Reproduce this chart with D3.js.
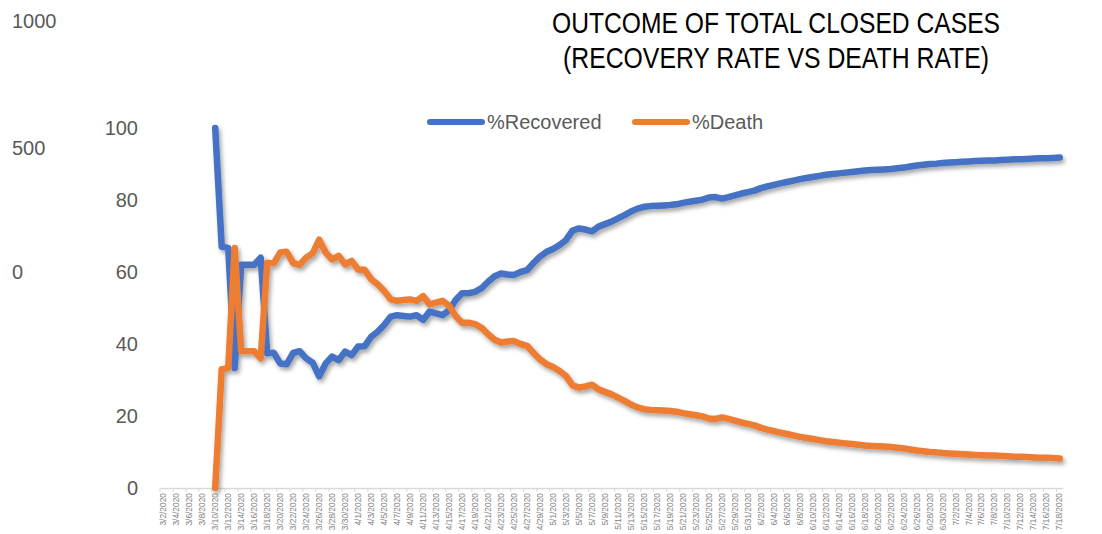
<!DOCTYPE html>
<html>
<head>
<meta charset="utf-8">
<script src="https://cdn.jsdelivr.net/npm/d3@7"></script>
<style>
  html, body { margin: 0; padding: 0; background: #fff; }
  svg { display: block; }
</style>
</head>
<body>
<svg id="chart" width="1102" height="534"></svg>
<script>
// ---- data ----
const startDate = "2020-03-02";
const endDate = "2020-07-18";
const seriesNames = ["%Recovered", "%Death"];
const yTicks = [0, 20, 40, 60, 80, 100];
const leftTexts = ["1000", "500", "0"];
const titleLines = ["OUTCOME OF TOTAL CLOSED CASES", "(RECOVERY RATE VS DEATH RATE)"];

// values start 3/10/2020 (first 8 days empty)
const recovered = [null, null, null, null, null, null, null, null,
  100, 67, 66.7, 33.3, 62, 62, 62, 64, 37.4, 37.6,
  34.6, 34.4, 37.5, 38.0, 36.0, 34.8, 31.0, 34.6, 36.5, 35.5,
  37.9, 36.9, 39.3, 39.4, 42.0, 43.4, 45.3, 47.6, 48.0, 47.8,
  47.6, 48.0, 46.7, 49.0, 48.5, 48.0, 49.4, 52.2, 54.1, 54.1,
  54.5, 55.5, 57.3, 58.8, 59.6, 59.3, 59.2, 60.0, 60.5, 62.5,
  64.3, 65.6, 66.4, 67.5, 68.9, 71.5, 72.1, 71.8, 71.3, 72.6,
  73.3, 74.0, 74.9, 75.8, 76.8, 77.6, 78.1, 78.3, 78.4, 78.5,
  78.6, 78.8, 79.2, 79.5, 79.8, 80.1, 80.7, 80.8, 80.4, 80.8,
  81.3, 81.8, 82.2, 82.6, 83.3, 83.8, 84.2, 84.6, 85.0, 85.4,
  85.8, 86.1, 86.4, 86.7, 87.0, 87.2, 87.4, 87.6, 87.8, 88.0,
  88.2, 88.3, 88.4, 88.5, 88.6, 88.8, 89.0, 89.3, 89.6, 89.8,
  90.0, 90.1, 90.3, 90.4, 90.5, 90.6, 90.7, 90.8, 90.9, 91.0,
  91.0, 91.1, 91.2, 91.3, 91.3, 91.4, 91.5, 91.6, 91.6, 91.7, 91.8];

const death = [null, null, null, null, null, null, null, null,
  0, 33, 33.3, 66.7, 38, 38, 38, 36, 62.6, 62.4,
  65.4, 65.6, 62.5, 62.0, 64.0, 65.2, 69.0, 65.4, 63.5, 64.5,
  62.1, 63.1, 60.7, 60.6, 58.0, 56.6, 54.7, 52.4, 52.0, 52.2,
  52.4, 52.0, 53.3, 51.0, 51.5, 52.0, 50.6, 47.8, 45.9, 45.9,
  45.5, 44.5, 42.7, 41.2, 40.4, 40.7, 40.8, 40.0, 39.5, 37.5,
  35.7, 34.4, 33.6, 32.5, 31.1, 28.5, 27.9, 28.2, 28.7, 27.4,
  26.7, 26.0, 25.1, 24.2, 23.2, 22.4, 21.9, 21.7, 21.6, 21.5,
  21.4, 21.2, 20.8, 20.5, 20.2, 19.9, 19.3, 19.2, 19.6, 19.2,
  18.7, 18.2, 17.8, 17.4, 16.7, 16.2, 15.8, 15.4, 15.0, 14.6,
  14.2, 13.9, 13.6, 13.3, 13.0, 12.8, 12.6, 12.4, 12.2, 12.0,
  11.8, 11.7, 11.6, 11.5, 11.4, 11.2, 11.0, 10.7, 10.4, 10.2,
  10.0, 9.9, 9.7, 9.6, 9.5, 9.4, 9.3, 9.2, 9.1, 9.0,
  9.0, 8.9, 8.8, 8.7, 8.7, 8.6, 8.5, 8.4, 8.4, 8.3, 8.2];

const colors = ["#4472C4", "#ED7D31"];

// categories
const fmt = d => (d.getMonth() + 1) + "/" + d.getDate() + "/" + d.getFullYear();
const parse = d3.timeParse("%Y-%m-%d");
const categories = d3.timeDay.range(parse(startDate), d3.timeDay.offset(parse(endDate), 1)).map(fmt);

// ---- layout ----
const svg = d3.select("#chart");
const plot = { left: 160, right: 1063, top: 128, bottom: 488 };

const x = d3.scaleBand().domain(categories).range([plot.left, plot.right]).paddingInner(0).paddingOuter(0);
const y = d3.scaleLinear().domain([0, 100]).range([plot.bottom, plot.top]);
const cx = c => x(c) + x.bandwidth() / 2;

const defs = svg.append("defs");
const f = defs.append("filter").attr("id", "shadow").attr("x", "-5%").attr("y", "-5%").attr("width", "110%").attr("height", "110%");
f.append("feDropShadow").attr("dx", 2).attr("dy", 3).attr("stdDeviation", 2)
  .attr("flood-color", "#000").attr("flood-opacity", 0.35);

// title
const titleWidths = [448, 426];
svg.append("g").selectAll("text").data(titleLines).join("text")
  .attr("x", 776).attr("y", (d, i) => 33 + i * 35)
  .attr("text-anchor", "middle")
  .attr("textLength", (d, i) => titleWidths[i])
  .attr("lengthAdjust", "spacingAndGlyphs")
  .style("font-family", "'Liberation Sans', Arial, sans-serif")
  .style("font-size", "29px")
  .style("fill", "#000")
  .text(d => d);

// left texts
svg.append("g").selectAll("text").data(leftTexts).join("text")
  .attr("x", 12).attr("y", (d, i) => [28, 155, 279][i])
  .style("font-family", "'Liberation Sans', Arial, sans-serif")
  .style("font-size", "20px").style("fill", "#595959")
  .text(d => d);

// y axis labels
const yAxis = d3.axisLeft(y).tickValues(yTicks).tickSize(0).tickPadding(0);
const gy = svg.append("g").attr("transform", `translate(138,0)`).call(yAxis);
gy.select(".domain").remove();
gy.selectAll("text")
  .style("font-family", "'Liberation Sans', Arial, sans-serif")
  .style("font-size", "20px").style("fill", "#595959");

// x axis
const xAxis = d3.axisBottom(x)
  .tickValues(categories.filter((c, i) => i % 2 === 0))
  .tickSize(0).tickPadding(0);
const gx = svg.append("g").attr("transform", `translate(0,${plot.bottom})`).call(xAxis);
gx.select(".domain").attr("stroke", "#d9d9d9").attr("stroke-width", 1.5);
gx.selectAll("text")
  .attr("transform", "rotate(-90)")
  .attr("x", -5).attr("y", 0).attr("dy", "0.32em")
  .attr("text-anchor", "end")
  .style("font-family", "'Liberation Sans', Arial, sans-serif")
  .style("font-size", "8.4px").style("fill", "#808080");
// small tick marks at band boundaries every 2 categories
svg.append("g").selectAll("line")
  .data(categories.filter((c, i) => i % 2 === 0))
  .join("line")
  .attr("x1", d => x(d)).attr("x2", d => x(d))
  .attr("y1", plot.bottom).attr("y2", plot.bottom + 4)
  .attr("stroke", "#d9d9d9").attr("stroke-width", 1);

// lines
const seriesData = [recovered, death];
const line = d3.line()
  .defined(d => d.v !== null)
  .x(d => cx(d.c))
  .y(d => y(d.v));
svg.append("g").attr("filter", "url(#shadow)")
  .selectAll("path").data(seriesData).join("path")
  .attr("d", s => line(s.map((v, i) => ({ c: categories[i], v }))))
  .attr("fill", "none")
  .attr("stroke", (d, i) => colors[i])
  .attr("stroke-width", 6.5)
  .attr("stroke-linejoin", "round")
  .attr("stroke-linecap", "round");

// legend
const legendItems = [{ x: 428, name: seriesNames[0], color: colors[0] }, { x: 633, name: seriesNames[1], color: colors[1] }];
const lg = svg.append("g");
lg.selectAll("line").data(legendItems).join("line")
  .attr("x1", d => d.x + 2).attr("x2", d => d.x + 54)
  .attr("y1", 122).attr("y2", 122)
  .attr("stroke", d => d.color).attr("stroke-width", 6).attr("stroke-linecap", "round");
lg.selectAll("text").data(legendItems).join("text")
  .attr("x", d => d.x + 59).attr("y", 129)
  .style("font-family", "'Liberation Sans', Arial, sans-serif")
  .style("font-size", "20px").style("fill", "#595959")
  .text(d => d.name);
</script>
</body>
</html>
